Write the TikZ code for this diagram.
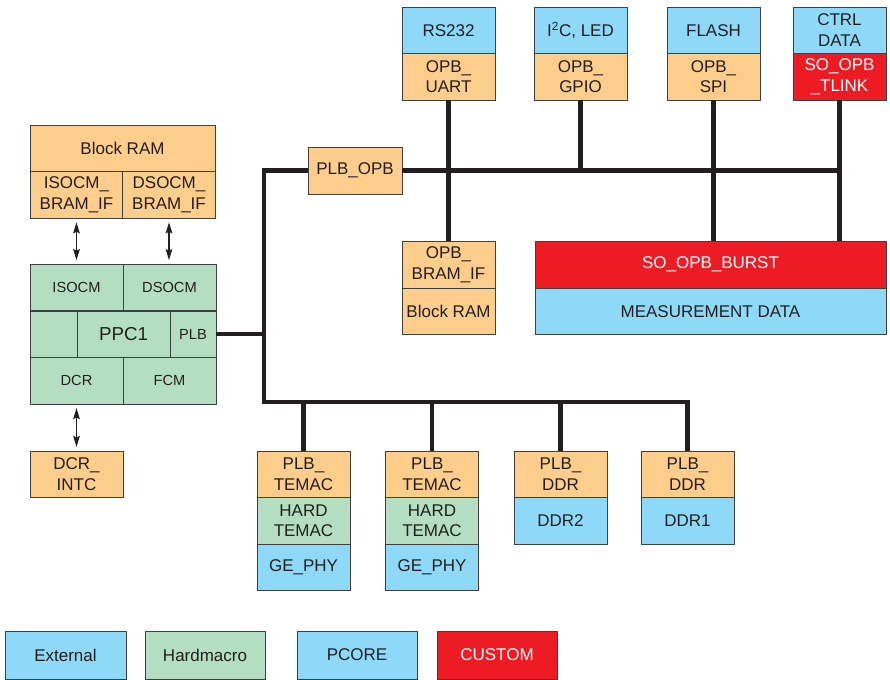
\documentclass[tikz,border=0pt]{standalone}
\usepackage{fontspec}
\setmainfont{Liberation Sans}
\usetikzlibrary{arrows.meta}
\definecolor{extblue}{RGB}{142,216,248}
\definecolor{pcorange}{RGB}{253,205,140}
\definecolor{hmgreen}{RGB}{179,222,193}
\definecolor{custred}{RGB}{237,28,36}
\definecolor{edge}{RGB}{64,64,64}
\definecolor{ink}{RGB}{35,31,32}
\tikzset{
  sz/.style 2 args={minimum width=#1*0.3mm, minimum height=#2*0.3mm},
  cell/.style={draw=edge, line width=0.8pt, text=ink, align=center, inner sep=0pt,
    font=\fontsize{14.5}{17.5}\selectfont, sz={93}{46.5}},
  ext/.style={cell, fill=extblue},
  pcore/.style={cell, fill=pcorange},
  hard/.style={cell, fill=hmgreen},
  cust/.style={cell, fill=custred, text=white},
  small/.style={font=\fontsize{12.5}{15}\selectfont},
  bus/.style={line width=3.8pt, draw=ink, line join=miter},
  link/.style={line width=1.1pt, draw=ink,
    {Stealth[length=3.3mm,width=2mm,inset=0.5mm]}-{Stealth[length=3.3mm,width=2mm,inset=0.5mm]},
    shorten >=1.1mm, shorten <=1.1mm},
}
\begin{document}
\begin{tikzpicture}[x=0.3mm, y=-0.3mm]
  \useasboundingbox (0,0) rectangle (890,680);
  % processor and its memories
  \node[pcore, sz={185}{47}] (bram) at (122.5,148.5) {Block RAM};
  \node[pcore] (isocmif) at (76.5,195) {ISOCM\_\\BRAM\_IF};
  \node[pcore] (dsocmif) at (169,195) {DSOCM\_\\BRAM\_IF};
  \node[hard, small] (isocm) at (76.5,287.5) {ISOCM};
  \node[hard, small] (dsocm) at (169.5,287.5) {DSOCM};
  \node[hard, sz={47}{46.5}] (ppcpad) at (53.5,334.25) {};
  \node[hard, font=\fontsize{16}{18}\selectfont] (ppc) at (123.5,334.25) {PPC1};
  \node[hard, small, sz={46}{46.5}] (ppcplb) at (193,334.25) {PLB};
  \node[hard, small] (dcr) at (76.5,380.75) {DCR};
  \node[hard, small] (fcm) at (169.5,380.75) {FCM};
  \node[pcore] (dcrintc) at (76.5,474.25) {DCR\_\\INTC};
  \draw[link] (isocmif.south) -- (isocm.north);
  \draw[link] (dsocmif.south) -- (dsocmif.south |- dsocm.north);
  \draw[link] (dcr.south) -- (dcrintc.north);
  % OPB side
  \node[pcore, sz={94}{47}] (plbopb) at (355,170.5) {PLB\_OPB};
  \node[ext] (rs232) at (448.5,30.25) {RS232};
  \node[pcore] (uart) at (448.5,76.75) {OPB\_\\UART};
  \node[ext] (i2c) at (580.5,30.25) {I\textsuperscript{2}C, LED};
  \node[pcore] (gpio) at (580.5,76.75) {OPB\_\\GPIO};
  \node[ext] (flash) at (713.5,30.25) {FLASH};
  \node[pcore] (spi) at (713.5,76.75) {OPB\_\\SPI};
  \node[ext] (ctrl) at (839.5,30.25) {CTRL\\DATA};
  \node[cust] (tlink) at (839.5,76.75) {SO\_OPB\\\_TLINK};
  \node[pcore] (opbbramif) at (448.5,264.75) {OPB\_\\BRAM\_IF};
  \node[pcore] (bramb) at (448.5,311.25) {Block RAM};
  \node[cust, sz={351}{46.5}] (burst) at (710.5,264.75) {SO\_OPB\_BURST};
  \node[ext, sz={351}{46.5}] (meas) at (710.5,311.25) {MEASUREMENT DATA};
  % PLB side
  \node[pcore] (plbtemaca) at (303.5,474.25) {PLB\_\\TEMAC};
  \node[hard] (temaca) at (303.5,520.75) {HARD\\TEMAC};
  \node[ext] (phya) at (303.5,567.25) {GE\_PHY};
  \node[pcore] (plbtemacb) at (432,474.25) {PLB\_\\TEMAC};
  \node[hard] (temacb) at (432,520.75) {HARD\\TEMAC};
  \node[ext] (phyb) at (432,567.25) {GE\_PHY};
  \node[pcore] (plbddrb) at (560.5,474.25) {PLB\_\\DDR};
  \node[ext] (ddrb) at (560.5,520.75) {DDR2};
  \node[pcore] (plbddra) at (687.5,474.25) {PLB\_\\DDR};
  \node[ext] (ddra) at (687.5,520.75) {DDR1};
  % buses
  \coordinate (plbtop) at (264,170.5);
  \coordinate (plbbot) at (264,402);
  \draw[bus] (plbopb.west) -- (plbtop) -- (plbbot) -| (plbddra.north);
  \draw[bus] (ppcplb.east) -- (ppcplb.east -| plbtop);
  \draw[bus] (plbopb.east) -- (plbopb.east -| tlink.south);
  \draw[bus] (uart.south) -- (opbbramif.north);
  \draw[bus] (gpio.south) -- (gpio.south |- plbopb.east);
  \draw[bus] (spi.south) -- (spi.south |- burst.north);
  \draw[bus] (tlink.south) -- (tlink.south |- burst.north);
  \draw[bus] (plbtemaca.north) -- (plbtemaca.north |- plbbot);
  \draw[bus] (plbtemacb.north) -- (plbtemacb.north |- plbbot);
  \draw[bus] (plbddrb.north) -- (plbddrb.north |- plbbot);
  % legend
  \node[ext, sz={121}{48}] (legext) at (65.5,655) {External};
  \node[hard, sz={120}{48}] (leghard) at (205,655) {Hardmacro};
  \node[ext, sz={120}{48}] (legpcore) at (357,655) {PCORE};
  \node[cust, sz={120}{48}] (legcust) at (497,655) {CUSTOM};
\end{tikzpicture}
\end{document}
